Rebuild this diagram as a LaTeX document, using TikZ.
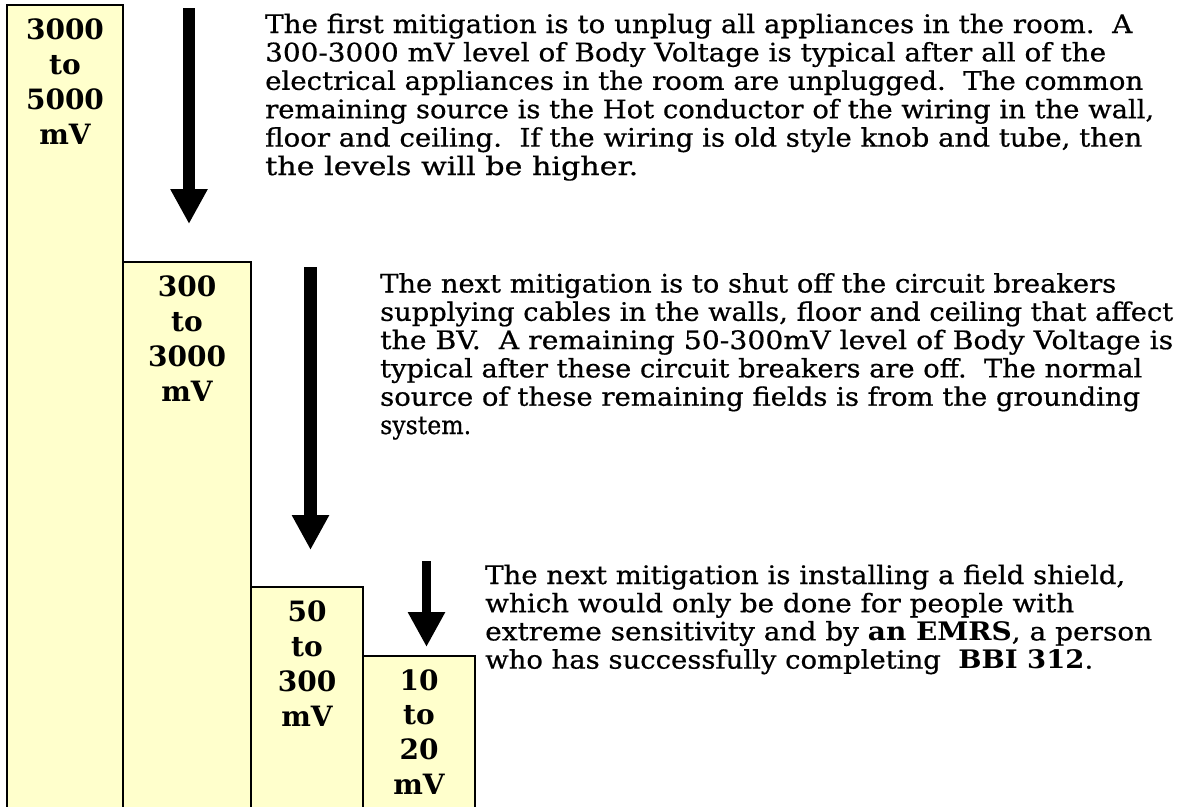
\documentclass[tikz,border=0pt]{standalone}
\usepackage{fontspec}
\usepackage{graphicx}
\setmainfont{DejaVu Serif}[UprightFeatures={FakeBold=0.6}]
\usetikzlibrary{arrows.meta}

% stretch or squeeze one line of text to a given width (in pt), keeping its height
\newcommand\fitline[2]{\resizebox{#1pt}{\height}{#2}}

\definecolor{levelfill}{HTML}{FFFFCC}

\tikzset{
  levelbox/.style={draw=black, line width=1.6pt, fill=levelfill},
  lbl/.style={inner sep=0pt, anchor=base, font=\fontsize{28}{32}\selectfont\bfseries},
  txt/.style={inner sep=0pt, anchor=base west, font=\fontsize{25.5}{28}\selectfont},
  bigarrow/.style={draw=black, -{Triangle[length=35pt, width=35pt]}},
}

\begin{document}
\begin{tikzpicture}[x=1pt, y=-1pt]
\useasboundingbox (0,0) rectangle (1182,806);
\clip (0,0) rectangle (1182,806);
\fill[white] (0,0) rectangle (1182,806);

% the four level columns, running off the bottom edge
\path[levelbox] (7,5)     rectangle (123,812);
\path[levelbox] (123,262) rectangle (251,812);
\path[levelbox] (251,587) rectangle (363,812);
\path[levelbox] (363,656) rectangle (475,812);

% column labels
\foreach \t [count=\i] in {3000,to,5000,mV}
  \node[lbl] (c1-\i) at (65, {5+34+35.3*(\i-1)}) {\t};
\foreach \t [count=\i] in {300,to,3000,mV}
  \node[lbl] (c2-\i) at (187, {262+34+35.3*(\i-1)}) {\t};
\foreach \t [count=\i] in {50,to,300,mV}
  \node[lbl] (c3-\i) at (307, {587+34+35.3*(\i-1)}) {\t};
\foreach \t [count=\i] in {10,to,20,mV}
  \node[lbl] (c4-\i) at (419, {656+34+34.8*(\i-1)}) {\t};

% downward arrows between the steps
\coordinate (a1top) at (189,8);
\coordinate (a1tip) at (189,224);
\coordinate (a2top) at (310.5,267);
\coordinate (a2tip) at (310.5,550);
\coordinate (a3top) at (426.5,561);
\coordinate (a3tip) at (426.5,647);
\draw[bigarrow, line width=12pt] (a1top) -- (a1tip);
\draw[bigarrow, line width=13pt] (a2top) -- (a2tip);
\draw[bigarrow, line width=9pt]  (a3top) -- (a3tip);

% first mitigation
\node[txt] (p1-1) at (265,33)    {\fitline{867}{The first mitigation is to unplug all appliances in the room.\ \ A}};
\node[txt] (p1-2) at (265,61.4)  {\fitline{841}{300-3000 mV level of Body Voltage is typical after all of the}};
\node[txt] (p1-3) at (265,89.8)  {\fitline{878}{electrical appliances in the room are unplugged.\ \ The common}};
\node[txt] (p1-4) at (265,118.2) {\fitline{889}{remaining source is the Hot conductor of the wiring in the wall,}};
\node[txt] (p1-5) at (265,146.6) {\fitline{877}{floor and ceiling.\ \ If the wiring is old style knob and tube, then}};
\node[txt] (p1-6) at (265,175)   {\fitline{373}{the levels will be higher.}};

% second mitigation
\node[txt] (p2-1) at (380,292.5) {\fitline{736}{The next mitigation is to shut off the circuit breakers}};
\node[txt] (p2-2) at (380,320.8) {\fitline{793}{supplying cables in the walls, floor and ceiling that affect}};
\node[txt] (p2-3) at (380,349.1) {\fitline{793}{the BV.\ \ A remaining 50-300mV level of Body Voltage is}};
\node[txt] (p2-4) at (380,377.4) {\fitline{762}{typical after these circuit breakers are off.\ \ The normal}};
\node[txt] (p2-5) at (380,405.7) {\fitline{760}{source of these remaining fields is from the grounding}};
\node[txt] (p2-6) at (380,434)   {\fitline{91}{system.}};

% third mitigation
\node[txt] (p3-1) at (485,584)   {\fitline{640}{The next mitigation is installing a field shield,}};
\node[txt] (p3-2) at (485,612.2) {\fitline{589}{which would only be done for people with}};
\node[txt] (p3-3) at (485,640.4) {\fitline{667}{extreme sensitivity and by \textbf{an EMRS}, a person}};
\node[txt] (p3-4) at (485,668.6) {\fitline{608}{who has successfully completing\ \ \textbf{BBI 312}.}};
\end{tikzpicture}
\end{document}
